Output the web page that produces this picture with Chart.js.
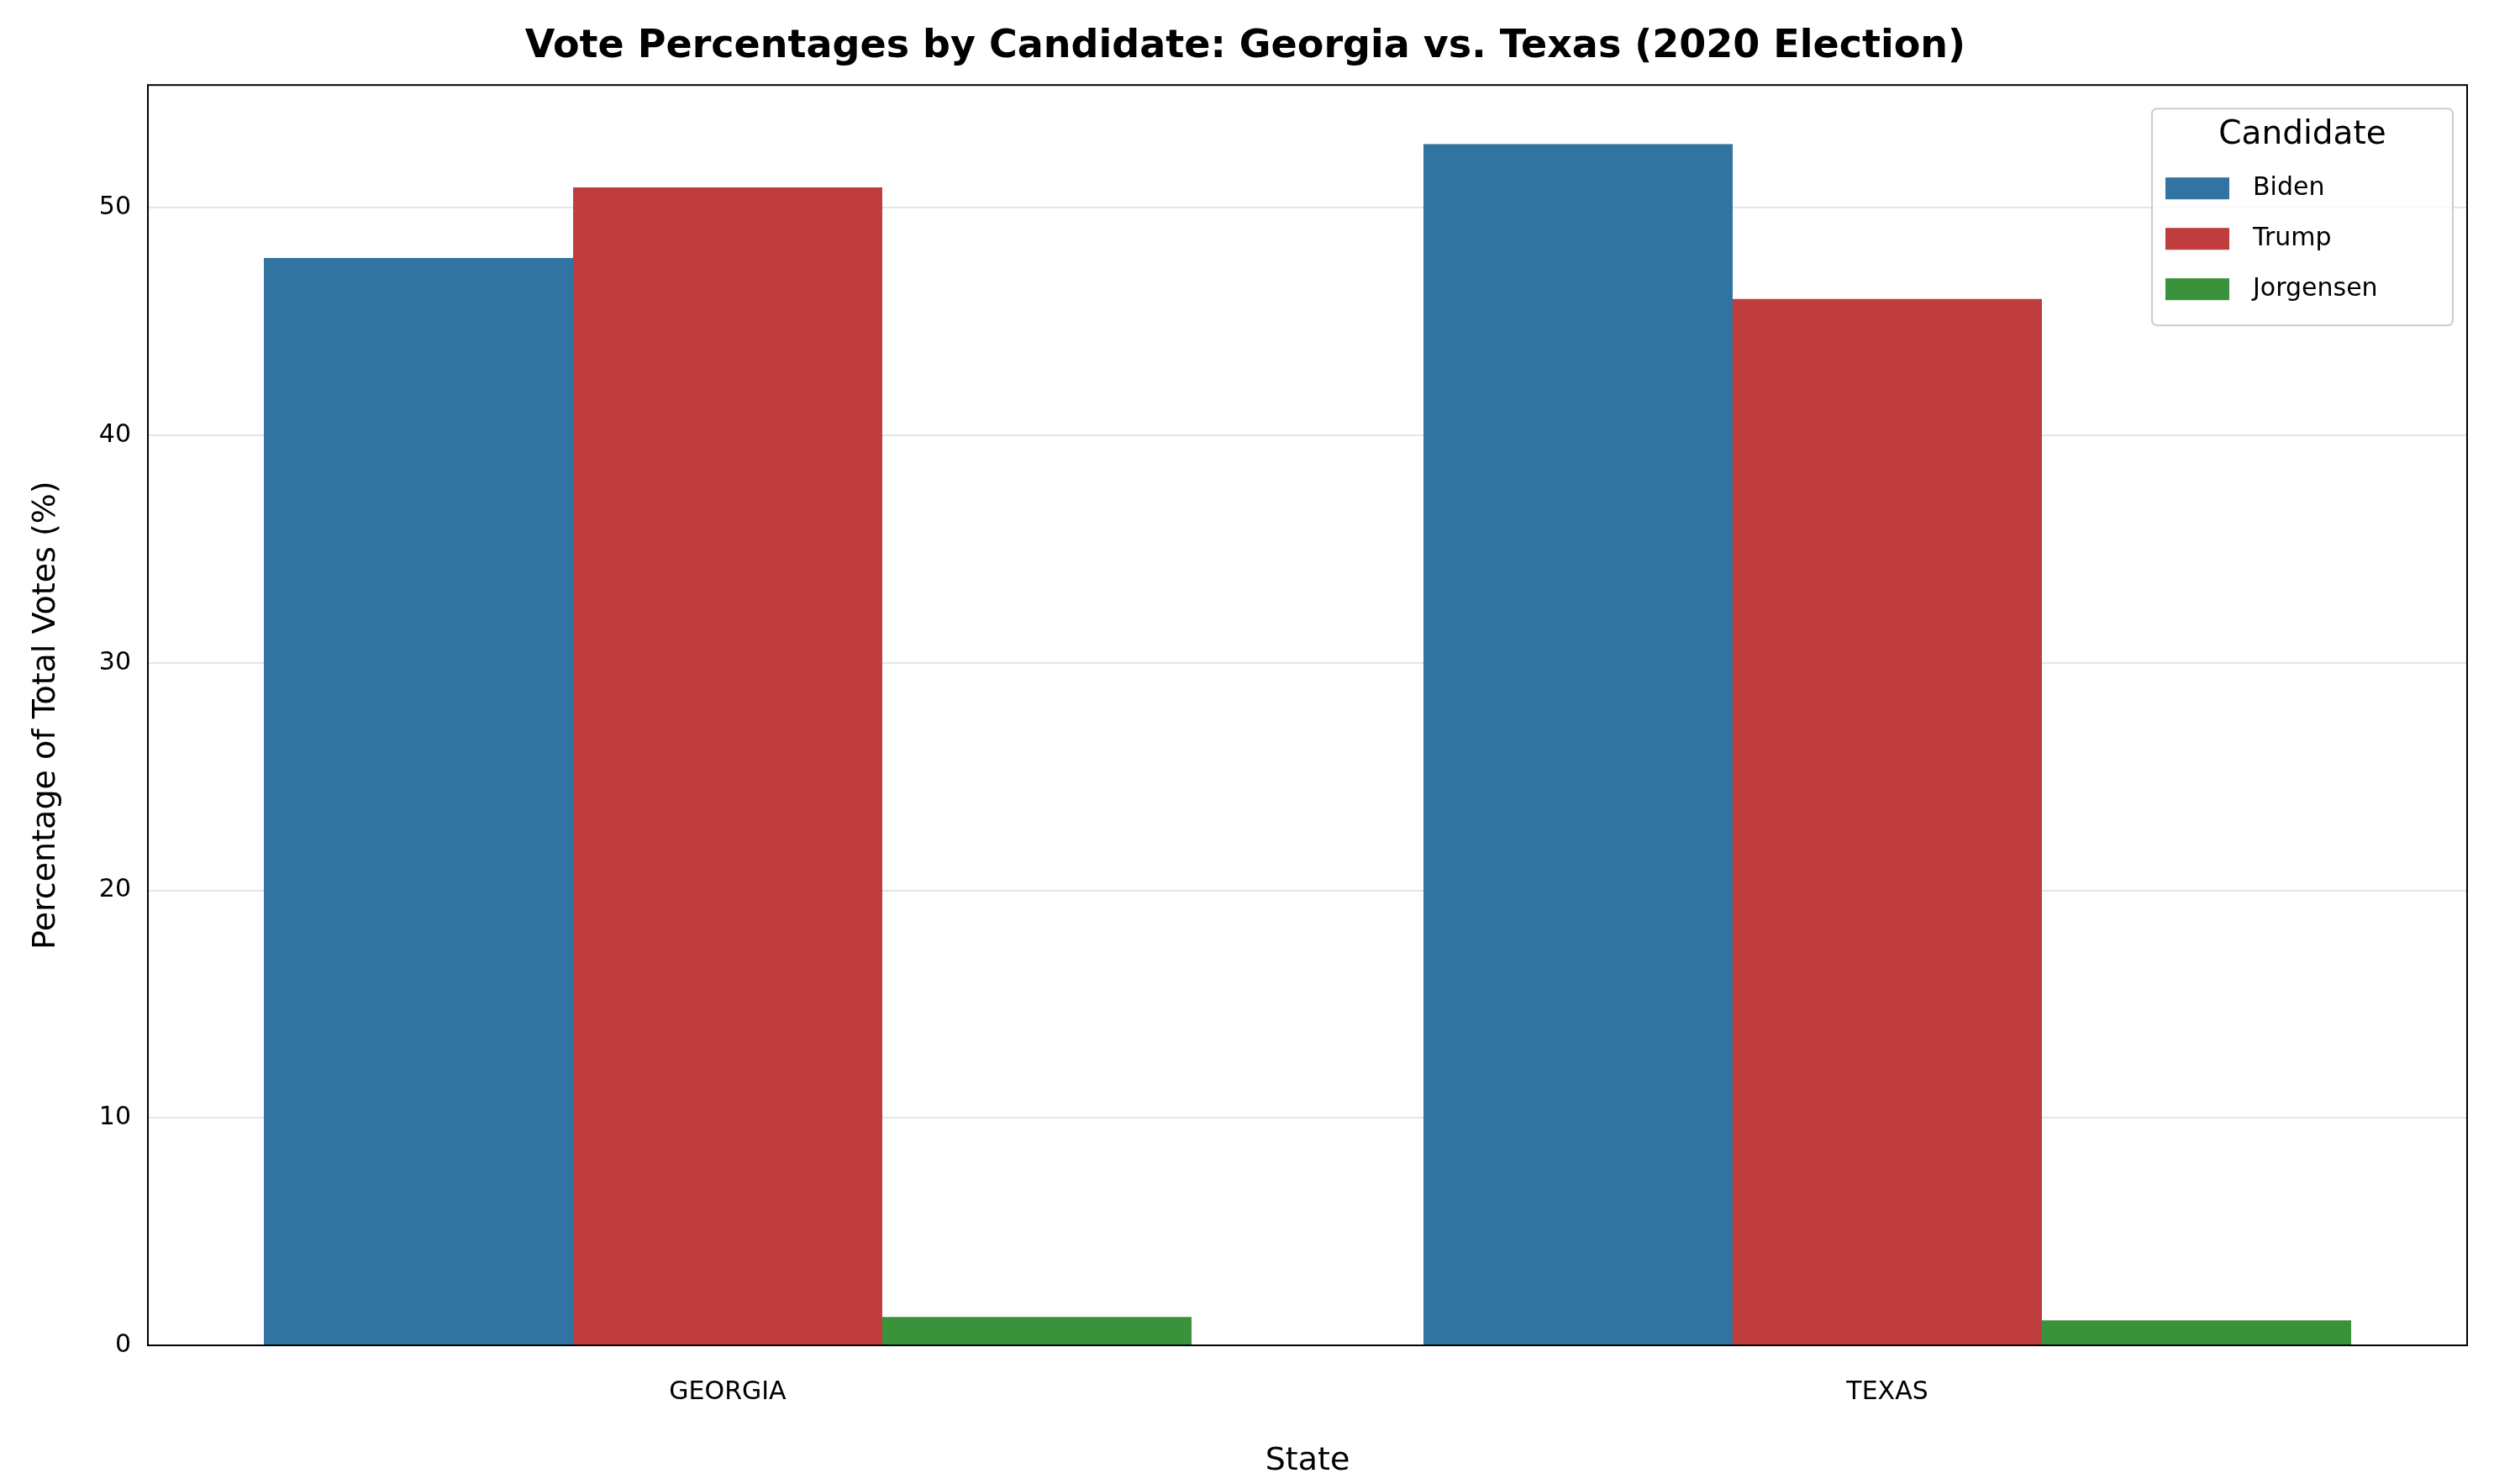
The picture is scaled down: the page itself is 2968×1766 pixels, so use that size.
<!DOCTYPE html>
<html>
<head>
<meta charset="utf-8">
<script src="https://cdn.jsdelivr.net/npm/chart.js@4"></script>
<style>
  html, body { margin: 0; padding: 0; background: #fff; }
  #wrap { width: 2968px; height: 1766px; }
</style>
</head>
<body>
<div id="wrap"><canvas id="chart" width="2968" height="1766"></canvas></div>
<script>
const states = ['GEORGIA', 'TEXAS'];
const candidates = ['Biden', 'Trump', 'Jorgensen'];
const biden = [47.8, 52.8];
const trump = [50.9, 46.0];
const jorgensen = [1.25, 1.1];
const colors = ['#3274a1', '#c03d3e', '#3a923a'];

const FONT = 'DejaVu Sans';

// matplotlib-style frame and in-plot legend
const framePlugin = {
  id: 'frame',
  afterDraw(chart) {
    const { ctx, chartArea: a } = chart;
    ctx.save();
    ctx.strokeStyle = '#000';
    ctx.lineWidth = 2;
    ctx.strokeRect(a.left, a.top, a.right - a.left, a.bottom - a.top);

    // legend box
    const w = 358, h = 258;
    const x = a.right - w - 17, y = a.top + 28;
    ctx.fillStyle = 'rgba(255,255,255,0.8)';
    ctx.strokeStyle = '#cccccc';
    ctx.lineWidth = 2;
    ctx.beginPath();
    ctx.roundRect(x, y, w, h, 6);
    ctx.fill();
    ctx.stroke();
    ctx.fillStyle = '#000';
    ctx.textBaseline = 'middle';
    ctx.textAlign = 'center';
    ctx.font = `39px "${FONT}"`;
    ctx.fillText('Candidate', x + w / 2, y + 32);
    ctx.textAlign = 'left';
    ctx.font = `30px "${FONT}"`;
    chart.data.datasets.forEach((ds, i) => {
      const ry = y + 95 + i * 60;
      ctx.fillStyle = ds.backgroundColor;
      ctx.fillRect(x + 16, ry - 13, 76, 26);
      ctx.fillStyle = '#000';
      ctx.fillText(ds.label, x + 120, ry);
    });
    ctx.restore();
  }
};

new Chart(document.getElementById('chart'), {
  type: 'bar',
  data: {
    labels: states,
    datasets: [
      { label: candidates[0], data: biden, backgroundColor: colors[0] },
      { label: candidates[1], data: trump, backgroundColor: colors[1] },
      { label: candidates[2], data: jorgensen, backgroundColor: colors[2] }
    ]
  },
  options: {
    responsive: false,
    animation: false,
    datasets: { bar: { categoryPercentage: 0.8, barPercentage: 1.0 } },
    layout: { padding: { left: 28, right: 32, top: 0, bottom: 0 } },
    plugins: {
      legend: { display: false },
      tooltip: { enabled: false },
      title: {
        display: true,
        text: 'Vote Percentages by Candidate: Georgia vs. Texas (2020 Election)',
        color: '#000',
        font: { family: FONT, size: 46, weight: 'bold' },
        padding: { top: 28, bottom: 18 }
      }
    },
    scales: {
      x: {
        grid: { display: false },
        border: { display: false },
        ticks: { color: '#000', font: { family: FONT, size: 30 }, padding: 30 },
        title: { display: true, text: 'State', color: '#000', font: { family: FONT, size: 38 }, padding: { top: 24 } },
        afterFit(scale) { scale.height = 165; }
      },
      y: {
        min: 0,
        max: 55.4,
        border: { display: false },
        grid: {
          color: ctx => (ctx.tick && ctx.tick.value % 10 === 0 && ctx.tick.value > 0) ? 'rgba(0,0,0,0.1)' : 'rgba(0,0,0,0)',
          lineWidth: 2,
          drawTicks: false
        },
        ticks: {
          stepSize: 10,
          color: '#000',
          font: { family: FONT, size: 30 },
          padding: 20,
          callback: v => (v % 10 === 0 ? v : '')
        },
        title: { display: true, text: 'Percentage of Total Votes (%)', color: '#000', font: { family: FONT, size: 38 }, padding: { bottom: 4 } },
        afterFit(scale) { scale.width = 148; }
      }
    }
  },
  plugins: [framePlugin]
});
</script>
</body>
</html>
